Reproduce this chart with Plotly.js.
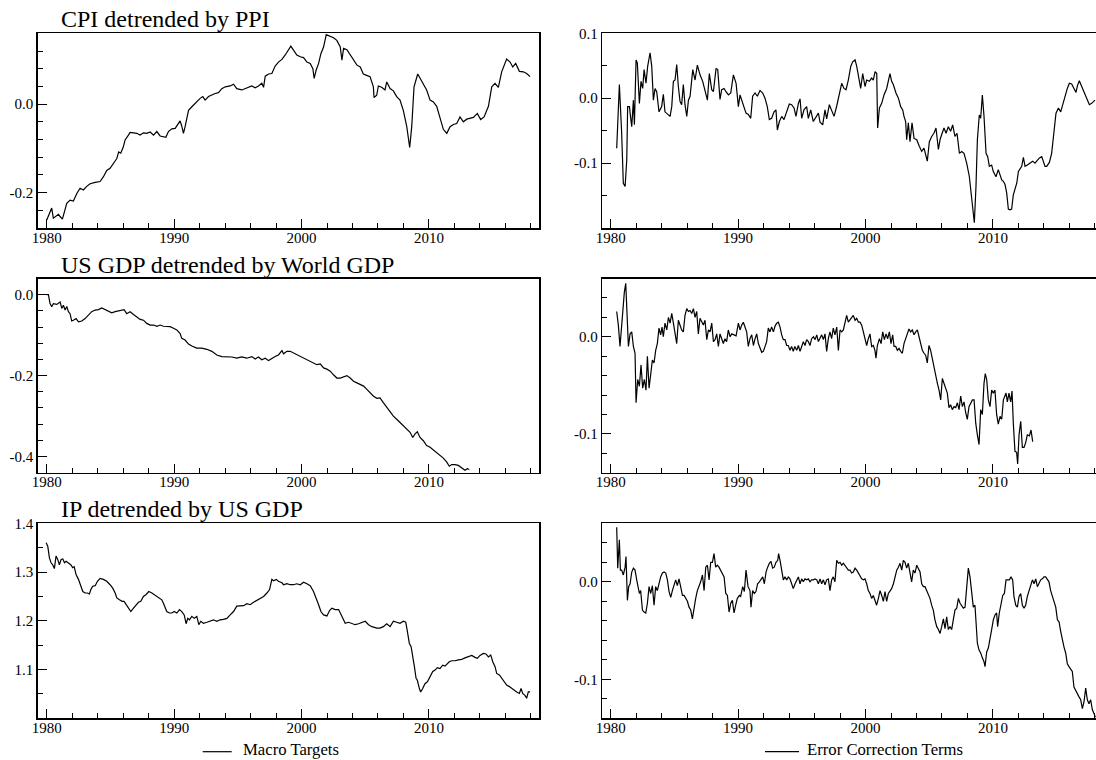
<!DOCTYPE html>
<html>
<head>
<meta charset="utf-8">
<script src="https://cdn.plot.ly/plotly-3.0.1.min.js"></script>
<style>html,body{margin:0;padding:0;background:#fff;}#chart{width:1096px;height:760px;}</style>
</head>
<body>
<div id="chart"></div>
<script>
// ---------- Panel titles / legend names ----------
const panelTitles = ["CPI detrended by PPI", "US GDP detrended by World GDP", "IP detrended by US GDP"];
const legendNames = ["Macro Targets", "Error Correction Terms"];

// ---------- Tick labels ----------
const xTickVals = [1980, 1990, 2000, 2010];
const xTickText = ["1980", "1990", "2000", "2010"];
const y1TickVals = [-0.2, 0.0];            const y1TickText = ["-0.2", "0.0"];
const y2TickVals = [-0.1, 0.0, 0.1];       const y2TickText = ["-0.1", "0.0", "0.1"];
const y3TickVals = [-0.4, -0.2, 0.0];      const y3TickText = ["-0.4", "-0.2", "0.0"];
const y4TickVals = [-0.1, 0.0];            const y4TickText = ["-0.1", "0.0"];
const y5TickVals = [1.1, 1.2, 1.3, 1.4];   const y5TickText = ["1.1", "1.2", "1.3", "1.4"];
const y6TickVals = [-0.1, 0.0];            const y6TickText = ["-0.1", "0.0"];

// ---------- Panel 1: CPI detrended by PPI (macro target) ----------
const cpiYears = [1980.00,1980.13,1980.39,1980.52,1980.79,1980.92,1981.05,1981.23,1981.57,1981.83,1982.09,1982.36,1982.62,1982.88,1983.14,1983.40,1983.80,1984.19,1984.45,1984.71,1984.97,1985.24,1985.50,1985.65,1985.81,1986.02,1986.15,1986.41,1986.54,1986.81,1987.07,1987.33,1987.59,1987.85,1988.12,1988.38,1988.64,1988.90,1989.16,1989.35,1989.55,1989.82,1990.08,1990.34,1990.47,1990.60,1990.73,1990.86,1991.13,1991.39,1991.65,1992.04,1992.25,1992.43,1992.70,1992.96,1993.22,1993.48,1993.74,1994.01,1994.40,1994.66,1994.92,1995.31,1995.58,1995.84,1996.10,1996.36,1996.62,1996.88,1997.02,1997.15,1997.41,1997.67,1997.93,1998.19,1998.46,1998.72,1998.98,1999.16,1999.37,1999.63,1999.90,2000.16,2000.42,2000.68,2000.89,2000.99,2001.15,2001.34,2001.52,2001.73,2001.94,2002.25,2002.51,2002.77,2003.04,2003.17,2003.30,2003.56,2003.82,2004.08,2004.35,2004.61,2004.85,2005.11,2005.38,2005.64,2005.69,2005.90,2006.03,2006.29,2006.55,2006.69,2006.95,2007.21,2007.47,2007.73,2007.99,2008.26,2008.49,2008.65,2008.83,2009.12,2009.30,2009.56,2009.82,2010.09,2010.35,2010.61,2010.87,2011.13,2011.40,2011.66,2011.92,2012.18,2012.44,2012.70,2012.97,2013.23,2013.49,2013.80,2014.06,2014.33,2014.67,2014.93,2015.19,2015.45,2015.71,2016.10,2016.37,2016.58,2016.81,2017.10,2017.41,2017.67,2017.94];
const cpiValues = [-0.262,-0.253,-0.235,-0.258,-0.253,-0.249,-0.254,-0.260,-0.224,-0.217,-0.219,-0.202,-0.190,-0.194,-0.186,-0.180,-0.177,-0.175,-0.164,-0.150,-0.145,-0.134,-0.123,-0.108,-0.111,-0.096,-0.081,-0.070,-0.064,-0.065,-0.066,-0.070,-0.065,-0.066,-0.063,-0.070,-0.062,-0.072,-0.074,-0.075,-0.062,-0.056,-0.055,-0.045,-0.038,-0.050,-0.066,-0.051,-0.014,-0.006,0.002,0.013,0.017,0.009,0.017,0.021,0.024,0.026,0.035,0.039,0.041,0.045,0.035,0.032,0.035,0.038,0.041,0.037,0.041,0.047,0.038,0.063,0.068,0.069,0.086,0.095,0.101,0.111,0.123,0.131,0.122,0.111,0.107,0.105,0.095,0.092,0.080,0.058,0.077,0.092,0.114,0.129,0.157,0.153,0.150,0.144,0.129,0.099,0.126,0.123,0.111,0.101,0.088,0.084,0.068,0.065,0.062,0.039,0.015,0.020,0.041,0.038,0.032,0.050,0.035,0.030,0.017,0.009,-0.014,-0.051,-0.098,-0.051,0.039,0.068,0.058,0.047,0.032,0.009,0.005,-0.005,-0.029,-0.057,-0.066,-0.051,-0.046,-0.044,-0.029,-0.040,-0.034,-0.032,-0.030,-0.021,-0.035,-0.029,-0.005,0.039,0.047,0.038,0.073,0.102,0.095,0.084,0.092,0.074,0.073,0.069,0.062];

// ---------- Panel 2: CPI error correction term ----------
const cpiEctYears = [1980.47,1980.68,1980.86,1980.99,1981.13,1981.26,1981.33,1981.47,1981.57,1981.65,1981.78,1981.86,1981.99,1982.09,1982.25,1982.38,1982.51,1982.62,1982.77,1982.90,1983.09,1983.22,1983.35,1983.48,1983.61,1983.79,1984.00,1984.13,1984.26,1984.40,1984.53,1984.66,1984.79,1984.92,1985.05,1985.18,1985.31,1985.44,1985.57,1985.70,1985.83,1985.97,1986.10,1986.23,1986.44,1986.62,1986.80,1987.01,1987.22,1987.40,1987.59,1987.74,1987.93,1988.06,1988.27,1988.40,1988.58,1988.71,1988.90,1989.05,1989.24,1989.42,1989.63,1989.84,1990.02,1990.15,1990.28,1990.41,1990.62,1990.80,1990.99,1991.14,1991.33,1991.51,1991.72,1991.93,1992.11,1992.29,1992.45,1992.63,1992.82,1992.97,1993.08,1993.24,1993.42,1993.60,1993.81,1994.02,1994.20,1994.39,1994.54,1994.73,1994.86,1994.99,1995.17,1995.38,1995.51,1995.70,1995.90,1996.11,1996.30,1996.43,1996.64,1996.82,1996.95,1997.16,1997.34,1997.53,1997.74,1997.95,1998.13,1998.31,1998.47,1998.65,1998.84,1998.99,1999.18,1999.31,1999.44,1999.62,1999.78,1999.96,2000.09,2000.30,2000.48,2000.61,2000.75,2000.88,2000.95,2001.09,2001.27,2001.45,2001.66,2001.79,2001.92,2002.05,2002.18,2002.39,2002.58,2002.76,2002.92,2003.02,2003.15,2003.23,2003.36,2003.49,2003.65,2003.81,2004.02,2004.22,2004.41,2004.59,2004.75,2004.85,2005.01,2005.19,2005.37,2005.53,2005.72,2005.85,2005.98,2006.16,2006.32,2006.50,2006.68,2006.84,2007.02,2007.18,2007.37,2007.55,2007.73,2007.94,2008.15,2008.33,2008.46,2008.54,2008.67,2008.78,2008.93,2009.04,2009.17,2009.30,2009.46,2009.59,2009.72,2009.90,2010.03,2010.24,2010.42,2010.55,2010.69,2010.82,2010.95,2011.08,2011.21,2011.34,2011.47,2011.60,2011.73,2011.87,2012.00,2012.13,2012.26,2012.39,2012.52,2012.70,2012.91,2013.12,2013.30,2013.49,2013.65,2013.83,2013.96,2014.09,2014.22,2014.43,2014.61,2014.74,2014.95,2015.14,2015.32,2015.48,2015.66,2015.84,2016.00,2016.18,2016.36,2016.52,2016.63,2016.78,2016.97,2017.15,2017.36,2017.57,2017.75,2017.88,2018.01];
const cpiEctValues = [-0.077,0.021,-0.054,-0.131,-0.136,-0.095,-0.013,-0.013,-0.031,-0.044,-0.003,-0.041,0.059,0.054,-0.008,0.026,0.015,0.044,0.023,0.049,0.070,0.049,-0.003,0.015,0.010,-0.021,-0.013,0.006,-0.021,-0.023,-0.026,-0.028,-0.013,0.026,0.028,0.052,0.018,-0.005,-0.010,0.021,-0.010,-0.028,-0.003,0.003,0.044,0.028,0.051,0.036,0.026,0.013,-0.003,0.038,0.013,0.010,0.046,0.044,-0.002,0.013,0.015,0.010,0.005,0.008,0.036,0.023,-0.013,0.005,-0.003,-0.013,-0.023,-0.025,-0.031,0.003,0.008,0.003,0.012,0.008,0.000,-0.013,-0.033,-0.031,-0.021,-0.018,-0.049,-0.036,-0.028,-0.033,-0.021,-0.009,-0.010,-0.015,-0.028,-0.008,-0.001,-0.031,-0.018,-0.013,-0.031,-0.018,-0.036,-0.028,-0.023,-0.037,-0.041,-0.018,-0.032,-0.010,-0.018,-0.028,-0.012,0.005,0.023,0.015,0.013,0.028,0.049,0.056,0.059,0.049,0.033,0.015,0.038,0.018,0.028,0.026,0.031,0.028,0.041,0.038,-0.046,-0.015,-0.008,0.005,0.015,0.028,0.038,0.026,0.021,0.008,0.000,-0.013,-0.018,-0.028,-0.036,-0.064,-0.038,-0.067,-0.038,-0.062,-0.064,-0.074,-0.082,-0.077,-0.087,-0.097,-0.067,-0.059,-0.054,-0.046,-0.079,-0.064,-0.056,-0.046,-0.054,-0.044,-0.051,-0.041,-0.059,-0.054,-0.085,-0.082,-0.085,-0.100,-0.121,-0.151,-0.177,-0.192,-0.136,-0.064,-0.026,-0.031,0.005,-0.028,-0.085,-0.090,-0.105,-0.103,-0.113,-0.121,-0.110,-0.118,-0.126,-0.128,-0.133,-0.146,-0.171,-0.172,-0.171,-0.149,-0.138,-0.131,-0.113,-0.108,-0.105,-0.091,-0.105,-0.103,-0.100,-0.097,-0.100,-0.096,-0.092,-0.090,-0.097,-0.105,-0.105,-0.099,-0.085,-0.064,-0.023,-0.015,-0.021,-0.010,0.005,0.015,0.023,0.022,0.015,0.009,0.019,0.027,0.018,0.009,0.000,-0.010,-0.008,-0.005,-0.003];

// ---------- Panel 3: US GDP detrended by World GDP (macro target) ----------
const gdpYears = [1980.00,1980.13,1980.26,1980.39,1980.52,1980.79,1981.05,1981.18,1981.31,1981.44,1981.57,1981.70,1981.83,1981.96,1982.09,1982.30,1982.49,1982.75,1983.01,1983.27,1983.53,1983.80,1984.06,1984.32,1984.58,1984.84,1985.10,1985.37,1985.63,1985.89,1986.07,1986.28,1986.54,1986.81,1987.07,1987.33,1987.59,1987.85,1988.12,1988.38,1988.64,1988.90,1989.16,1989.42,1989.69,1989.95,1990.21,1990.47,1990.60,1990.86,1991.13,1991.39,1991.78,1992.17,1992.57,1992.96,1993.35,1993.74,1994.14,1994.53,1994.92,1995.31,1995.71,1996.10,1996.36,1996.62,1996.88,1997.15,1997.41,1997.67,1997.93,1998.19,1998.46,1998.59,1998.85,1999.11,1999.37,1999.63,1999.90,2000.16,2000.42,2000.68,2000.94,2001.20,2001.47,2001.73,2001.99,2002.25,2002.51,2002.77,2003.04,2003.30,2003.56,2003.82,2004.08,2004.35,2004.61,2004.87,2005.13,2005.39,2005.65,2005.92,2006.16,2006.42,2006.69,2006.95,2007.21,2007.47,2007.73,2007.99,2008.26,2008.52,2008.73,2008.91,2009.09,2009.30,2009.56,2009.82,2010.09,2010.35,2010.61,2010.87,2011.13,2011.40,2011.60,2011.79,2012.05,2012.31,2012.57,2012.83,2013.02,2013.17];
const gdpValues = [0.000,0.000,-0.022,-0.030,-0.022,-0.024,-0.018,-0.034,-0.026,-0.038,-0.029,-0.042,-0.047,-0.065,-0.063,-0.059,-0.067,-0.065,-0.059,-0.051,-0.042,-0.038,-0.037,-0.033,-0.037,-0.041,-0.045,-0.042,-0.040,-0.038,-0.037,-0.047,-0.042,-0.049,-0.055,-0.061,-0.063,-0.071,-0.075,-0.075,-0.078,-0.075,-0.078,-0.078,-0.079,-0.083,-0.087,-0.096,-0.108,-0.112,-0.122,-0.127,-0.132,-0.132,-0.135,-0.140,-0.149,-0.153,-0.154,-0.154,-0.157,-0.154,-0.157,-0.153,-0.159,-0.154,-0.161,-0.157,-0.163,-0.157,-0.153,-0.149,-0.138,-0.146,-0.140,-0.140,-0.144,-0.149,-0.153,-0.157,-0.161,-0.165,-0.169,-0.173,-0.171,-0.181,-0.184,-0.189,-0.198,-0.206,-0.206,-0.203,-0.200,-0.206,-0.214,-0.218,-0.222,-0.226,-0.234,-0.242,-0.251,-0.256,-0.255,-0.267,-0.279,-0.291,-0.300,-0.308,-0.316,-0.324,-0.332,-0.340,-0.353,-0.344,-0.339,-0.353,-0.361,-0.373,-0.377,-0.384,-0.391,-0.398,-0.404,-0.414,-0.424,-0.420,-0.420,-0.422,-0.429,-0.434,-0.430,-0.432];

// ---------- Panel 4: US GDP error correction term ----------
const gdpEctYears = [1980.47,1980.60,1980.73,1980.86,1980.99,1981.07,1981.18,1981.26,1981.39,1981.52,1981.65,1981.78,1981.91,1981.99,1982.12,1982.25,1982.38,1982.51,1982.64,1982.77,1982.88,1983.01,1983.14,1983.27,1983.40,1983.53,1983.66,1983.79,1983.92,1984.03,1984.13,1984.26,1984.40,1984.53,1984.66,1984.79,1984.92,1985.05,1985.18,1985.31,1985.44,1985.57,1985.70,1985.83,1985.97,1986.10,1986.23,1986.36,1986.49,1986.62,1986.75,1986.88,1987.01,1987.14,1987.27,1987.40,1987.54,1987.67,1987.80,1987.93,1988.06,1988.19,1988.32,1988.45,1988.58,1988.71,1988.84,1988.97,1989.10,1989.23,1989.37,1989.50,1989.63,1989.84,1990.02,1990.15,1990.28,1990.41,1990.54,1990.67,1990.80,1990.93,1991.07,1991.20,1991.33,1991.46,1991.59,1991.72,1991.85,1991.98,1992.11,1992.24,1992.37,1992.50,1992.63,1992.77,1992.90,1993.03,1993.16,1993.29,1993.42,1993.55,1993.68,1993.81,1993.94,1994.07,1994.20,1994.33,1994.45,1994.60,1994.73,1994.86,1994.99,1995.12,1995.25,1995.38,1995.51,1995.64,1995.77,1995.91,1996.04,1996.17,1996.30,1996.43,1996.56,1996.69,1996.82,1996.95,1997.08,1997.21,1997.34,1997.47,1997.60,1997.74,1997.87,1998.00,1998.13,1998.26,1998.39,1998.52,1998.65,1998.78,1998.91,1999.04,1999.18,1999.31,1999.44,1999.57,1999.70,1999.83,1999.96,2000.09,2000.22,2000.35,2000.48,2000.61,2000.74,2000.82,2000.93,2001.09,2001.22,2001.35,2001.48,2001.61,2001.74,2001.87,2002.00,2002.13,2002.24,2002.37,2002.50,2002.63,2002.76,2002.89,2003.02,2003.15,2003.28,2003.41,2003.54,2003.67,2003.81,2003.94,2004.07,2004.20,2004.33,2004.46,2004.59,2004.72,2004.85,2004.98,2005.11,2005.25,2005.38,2005.51,2005.64,2005.77,2005.90,2006.03,2006.16,2006.29,2006.42,2006.55,2006.68,2006.81,2006.95,2007.08,2007.21,2007.34,2007.47,2007.60,2007.73,2007.86,2007.99,2008.12,2008.25,2008.39,2008.52,2008.65,2008.78,2008.91,2009.04,2009.17,2009.30,2009.40,2009.51,2009.64,2009.77,2009.90,2010.03,2010.16,2010.29,2010.42,2010.56,2010.69,2010.82,2010.95,2011.03,2011.13,2011.26,2011.39,2011.50,2011.60,2011.73,2011.86,2011.94,2012.05,2012.18,2012.31,2012.44,2012.57,2012.70,2012.86,2012.99,2013.12];
const gdpEctValues = [0.026,0.012,-0.010,0.015,0.041,0.046,0.055,0.024,-0.010,0.003,0.005,-0.010,-0.017,-0.068,-0.044,-0.051,-0.029,-0.053,-0.044,-0.055,-0.020,-0.053,-0.041,-0.024,-0.027,-0.014,-0.007,0.009,0.002,0.010,0.000,0.014,0.007,0.020,0.014,0.024,0.014,0.005,-0.007,0.017,0.012,0.007,0.005,0.022,0.029,0.026,0.027,0.024,0.029,0.020,0.026,0.003,0.019,0.015,0.012,0.017,-0.003,0.007,0.005,0.014,-0.005,-0.003,0.003,-0.010,0.003,-0.002,-0.007,-0.002,-0.005,0.007,0.000,0.003,0.002,0.001,0.014,0.007,0.012,0.015,0.010,0.005,-0.010,-0.002,0.002,-0.009,-0.002,0.003,-0.007,-0.012,-0.016,-0.015,-0.010,-0.005,0.009,0.005,0.010,0.005,0.011,0.014,0.015,0.010,0.002,-0.003,-0.003,-0.009,-0.009,-0.014,-0.010,-0.015,-0.010,-0.014,-0.009,-0.015,-0.010,-0.005,-0.009,-0.003,-0.005,-0.009,-0.002,0.000,-0.003,0.002,-0.005,-0.002,0.002,-0.003,0.003,-0.015,-0.002,0.005,-0.002,0.009,0.002,0.010,-0.014,0.007,0.005,0.007,0.014,0.022,0.015,0.017,0.019,0.022,0.017,0.019,0.015,0.015,0.012,0.005,-0.003,-0.009,-0.002,0.003,-0.010,-0.009,-0.014,-0.022,-0.009,-0.002,-0.007,0.005,-0.003,0.003,-0.002,0.005,-0.007,0.002,-0.010,-0.010,-0.014,-0.012,-0.015,-0.017,-0.007,-0.003,0.003,0.008,0.005,0.007,0.002,0.005,0.007,0.000,-0.009,-0.014,-0.017,-0.019,-0.027,-0.009,-0.014,-0.024,-0.031,-0.041,-0.048,-0.055,-0.065,-0.043,-0.048,-0.055,-0.058,-0.073,-0.070,-0.075,-0.072,-0.073,-0.068,-0.075,-0.061,-0.072,-0.067,-0.078,-0.085,-0.072,-0.068,-0.065,-0.065,-0.089,-0.101,-0.111,-0.075,-0.080,-0.048,-0.038,-0.044,-0.065,-0.072,-0.055,-0.058,-0.055,-0.080,-0.090,-0.082,-0.085,-0.065,-0.061,-0.058,-0.067,-0.058,-0.067,-0.056,-0.089,-0.118,-0.119,-0.131,-0.101,-0.087,-0.114,-0.114,-0.109,-0.101,-0.102,-0.096,-0.108];

// ---------- Panel 5: IP detrended by US GDP (macro target) ----------
const ipYears = [1979.95,1980.08,1980.21,1980.34,1980.47,1980.60,1980.73,1980.86,1980.99,1981.13,1981.26,1981.39,1981.52,1981.70,1981.88,1982.04,1982.15,1982.30,1982.49,1982.67,1982.83,1983.01,1983.19,1983.35,1983.46,1983.61,1983.80,1983.98,1984.19,1984.45,1984.71,1984.97,1985.18,1985.37,1985.50,1985.71,1985.92,1986.07,1986.23,1986.41,1986.60,1986.81,1987.02,1987.20,1987.38,1987.59,1987.80,1988.01,1988.25,1988.43,1988.64,1988.85,1989.03,1989.16,1989.29,1989.42,1989.63,1989.82,1990.00,1990.21,1990.42,1990.60,1990.79,1990.94,1991.07,1991.20,1991.39,1991.57,1991.78,1991.94,1992.09,1992.30,1992.57,1992.83,1993.09,1993.35,1993.61,1993.87,1994.14,1994.40,1994.66,1994.92,1995.18,1995.45,1995.71,1995.97,1996.23,1996.49,1996.75,1997.02,1997.28,1997.49,1997.67,1997.80,1998.01,1998.19,1998.46,1998.59,1998.85,1999.11,1999.37,1999.63,1999.90,2000.16,2000.42,2000.68,2000.94,2001.15,2001.34,2001.52,2001.73,2001.99,2002.20,2002.38,2002.64,2002.91,2003.17,2003.43,2003.69,2003.95,2004.21,2004.48,2004.74,2005.00,2005.26,2005.52,2005.92,2006.16,2006.42,2006.69,2006.95,2007.21,2007.47,2007.73,2007.99,2008.18,2008.31,2008.46,2008.60,2008.73,2008.86,2008.99,2009.09,2009.25,2009.35,2009.51,2009.69,2009.88,2010.09,2010.30,2010.48,2010.66,2010.87,2011.08,2011.26,2011.45,2011.60,2011.79,2012.05,2012.31,2012.57,2012.83,2013.10,2013.36,2013.62,2013.80,2014.01,2014.27,2014.48,2014.67,2014.85,2015.01,2015.19,2015.32,2015.53,2015.71,2015.89,2016.10,2016.31,2016.50,2016.68,2016.89,2017.10,2017.23,2017.36,2017.54,2017.67,2017.80,2017.94];
const ipValues = [1.360,1.353,1.329,1.319,1.315,1.307,1.333,1.326,1.315,1.326,1.327,1.319,1.322,1.319,1.315,1.309,1.311,1.295,1.285,1.272,1.260,1.257,1.257,1.255,1.264,1.271,1.272,1.281,1.287,1.285,1.281,1.274,1.267,1.257,1.247,1.243,1.240,1.240,1.233,1.226,1.219,1.226,1.233,1.238,1.240,1.250,1.254,1.260,1.257,1.254,1.250,1.247,1.243,1.236,1.226,1.219,1.216,1.216,1.219,1.216,1.223,1.219,1.212,1.194,1.205,1.202,1.209,1.205,1.209,1.192,1.199,1.195,1.197,1.199,1.202,1.199,1.202,1.203,1.205,1.212,1.219,1.230,1.231,1.231,1.235,1.233,1.238,1.242,1.247,1.250,1.257,1.264,1.285,1.282,1.285,1.281,1.278,1.274,1.276,1.274,1.274,1.276,1.274,1.279,1.276,1.272,1.260,1.247,1.233,1.219,1.212,1.210,1.221,1.226,1.223,1.223,1.209,1.195,1.197,1.195,1.192,1.194,1.197,1.199,1.192,1.188,1.185,1.185,1.188,1.194,1.188,1.199,1.197,1.195,1.199,1.197,1.178,1.154,1.147,1.130,1.106,1.082,1.078,1.061,1.054,1.061,1.071,1.075,1.085,1.096,1.099,1.104,1.102,1.109,1.107,1.113,1.116,1.118,1.118,1.120,1.121,1.124,1.126,1.129,1.125,1.123,1.129,1.133,1.132,1.126,1.130,1.116,1.106,1.092,1.089,1.082,1.075,1.068,1.065,1.061,1.058,1.054,1.051,1.061,1.051,1.047,1.041,1.054,1.054];

// ---------- Panel 6: IP error correction term ----------
const ipEctYears = [1980.47,1980.55,1980.68,1980.76,1980.86,1980.99,1981.13,1981.20,1981.31,1981.41,1981.52,1981.65,1981.78,1981.91,1982.04,1982.17,1982.25,1982.35,1982.49,1982.62,1982.75,1982.88,1983.01,1983.14,1983.27,1983.40,1983.53,1983.66,1983.79,1983.92,1984.06,1984.19,1984.32,1984.45,1984.58,1984.71,1984.84,1984.97,1985.10,1985.23,1985.36,1985.49,1985.63,1985.76,1985.89,1986.02,1986.15,1986.28,1986.41,1986.54,1986.67,1986.80,1986.93,1987.06,1987.20,1987.33,1987.46,1987.59,1987.72,1987.85,1987.98,1988.11,1988.24,1988.37,1988.50,1988.63,1988.76,1988.90,1989.03,1989.16,1989.29,1989.42,1989.55,1989.68,1989.81,1989.94,1990.10,1990.20,1990.36,1990.49,1990.62,1990.78,1990.93,1991.01,1991.14,1991.27,1991.40,1991.53,1991.67,1991.80,1991.93,1992.06,1992.19,1992.32,1992.45,1992.58,1992.71,1992.84,1992.97,1993.11,1993.18,1993.29,1993.42,1993.55,1993.68,1993.81,1993.94,1994.07,1994.20,1994.33,1994.47,1994.60,1994.73,1994.86,1994.99,1995.12,1995.25,1995.38,1995.51,1995.64,1995.77,1995.91,1996.04,1996.17,1996.30,1996.43,1996.56,1996.69,1996.82,1996.95,1997.08,1997.21,1997.34,1997.47,1997.60,1997.74,1997.87,1998.00,1998.13,1998.26,1998.39,1998.52,1998.65,1998.78,1998.91,1999.04,1999.18,1999.31,1999.44,1999.57,1999.70,1999.83,1999.96,2000.09,2000.22,2000.35,2000.48,2000.61,2000.74,2000.87,2001.01,2001.14,2001.27,2001.40,2001.53,2001.66,2001.79,2001.92,2002.05,2002.19,2002.32,2002.45,2002.58,2002.71,2002.84,2002.97,2003.10,2003.23,2003.36,2003.49,2003.62,2003.75,2003.88,2004.02,2004.15,2004.28,2004.41,2004.54,2004.67,2004.80,2004.93,2005.06,2005.19,2005.32,2005.45,2005.59,2005.72,2005.85,2005.98,2006.11,2006.24,2006.37,2006.50,2006.63,2006.76,2006.89,2007.02,2007.16,2007.29,2007.42,2007.55,2007.68,2007.81,2007.94,2008.07,2008.20,2008.33,2008.46,2008.59,2008.67,2008.78,2008.91,2009.04,2009.17,2009.30,2009.38,2009.51,2009.64,2009.77,2009.90,2010.03,2010.16,2010.29,2010.37,2010.50,2010.63,2010.77,2010.90,2011.03,2011.16,2011.29,2011.42,2011.55,2011.65,2011.79,2011.92,2012.05,2012.18,2012.31,2012.44,2012.57,2012.70,2012.84,2012.97,2013.10,2013.23,2013.36,2013.49,2013.62,2013.75,2013.88,2014.01,2014.14,2014.27,2014.40,2014.53,2014.66,2014.80,2014.93,2015.06,2015.19,2015.32,2015.45,2015.58,2015.71,2015.84,2015.97,2016.10,2016.23,2016.36,2016.50,2016.63,2016.76,2016.89,2017.02,2017.15,2017.28,2017.41,2017.54,2017.67,2017.80,2017.93,2018.04];
const ipEctValues = [0.056,0.014,0.043,0.012,0.012,0.007,0.015,0.026,-0.019,-0.005,-0.002,0.010,0.014,0.012,0.002,-0.009,-0.012,-0.009,-0.029,-0.031,-0.032,-0.022,-0.005,-0.012,-0.004,-0.024,-0.005,-0.009,-0.002,0.005,0.009,0.010,0.009,0.002,-0.010,-0.016,-0.009,-0.002,0.002,-0.004,0.003,-0.005,-0.014,-0.014,-0.017,-0.020,-0.026,-0.029,-0.038,-0.026,-0.017,-0.009,-0.005,0.000,0.007,-0.009,0.015,0.017,0.002,0.020,0.020,0.029,0.015,0.017,0.015,0.012,0.009,0.005,-0.012,-0.014,-0.031,-0.022,-0.019,-0.032,-0.024,-0.017,-0.014,-0.015,-0.005,-0.010,0.012,-0.005,-0.009,-0.026,-0.009,-0.012,-0.010,-0.002,0.000,0.003,0.005,-0.002,0.010,0.015,0.019,0.021,0.014,0.015,0.020,0.022,0.029,0.022,0.010,0.002,0.005,0.002,0.005,0.003,-0.002,-0.007,-0.002,0.002,0.005,-0.002,0.003,0.000,0.003,0.002,0.003,0.000,0.002,0.002,0.003,0.002,-0.002,0.003,-0.002,0.002,-0.003,0.002,0.003,-0.009,0.002,0.005,0.000,0.022,0.019,0.020,0.017,0.019,0.017,0.014,0.012,0.012,0.009,0.010,0.014,0.012,0.009,0.005,0.003,0.002,0.003,-0.002,-0.009,-0.012,-0.017,-0.014,-0.020,-0.024,-0.017,-0.009,-0.014,-0.020,-0.010,-0.020,-0.012,-0.009,-0.007,-0.002,0.005,0.012,0.015,0.019,0.012,0.022,0.020,0.014,0.019,0.009,0.000,0.012,0.009,0.017,0.014,0.010,-0.002,-0.005,-0.005,-0.009,-0.012,-0.017,-0.024,-0.029,-0.039,-0.046,-0.049,-0.053,-0.046,-0.038,-0.048,-0.036,-0.049,-0.046,-0.049,-0.039,-0.029,-0.027,-0.017,-0.022,-0.024,-0.027,-0.026,-0.009,0.014,0.005,-0.009,-0.026,-0.024,-0.039,-0.063,-0.070,-0.073,-0.078,-0.082,-0.087,-0.072,-0.068,-0.060,-0.049,-0.039,-0.034,-0.032,-0.046,-0.032,-0.022,-0.014,-0.012,0.002,0.002,0.002,0.005,0.002,-0.015,-0.024,-0.026,-0.015,-0.012,-0.024,-0.027,-0.024,-0.015,-0.009,-0.005,0.002,-0.002,0.003,-0.005,-0.002,0.002,0.003,0.005,0.005,0.003,0.000,-0.009,-0.015,-0.020,-0.026,-0.039,-0.041,-0.051,-0.060,-0.067,-0.073,-0.084,-0.087,-0.089,-0.092,-0.108,-0.111,-0.114,-0.118,-0.121,-0.130,-0.123,-0.109,-0.121,-0.125,-0.121,-0.131,-0.135,-0.139];

// ---------- Layout helpers ----------
const W = 1096, H = 760;
const FONT = "Liberation Serif";
const px = v => v / W;
const py = v => 1 - v / H;

const leftDom = [px(37.7), px(539)];
const rightDom = [px(602.3), 1.0];
const rows = [[33.3, 228], [278.5, 472.7], [523.3, 718.3]];
const leftRange = [1979.29, 2018.64];
const rightRange = [1979.34, 2018.09];

function xAxis(dom, rng, anchor) {
  return {
    domain: dom, range: rng, anchor: anchor,
    showgrid: false, zeroline: false,
    showline: true, linecolor: '#000', linewidth: 1.5, mirror: true,
    ticks: 'inside', ticklen: 9, tickwidth: 1, tickcolor: '#000',
    tickmode: 'array', tickvals: xTickVals, ticktext: xTickText,
    ticklabelstandoff: -5,
    minor: {dtick: 2, tick0: 1980, ticks: 'inside', ticklen: 5, tickwidth: 1, tickcolor: '#000', showgrid: false},
    tickfont: {family: FONT, size: 15, color: '#000'},
    fixedrange: true
  };
}
function yAxis(row, rng, tv, tt, minorD, minor0, anchor, isRight) {
  return {
    domain: [py(rows[row][1]), py(rows[row][0])], range: rng, anchor: anchor,
    showgrid: false, zeroline: false,
    showline: true, linecolor: '#000', linewidth: 1.5, mirror: !isRight,
    ticks: 'inside', ticklen: 9, tickwidth: 1, tickcolor: '#000',
    tickmode: 'array', tickvals: tv, ticktext: tt,
    minor: {dtick: minorD, tick0: minor0, ticks: 'inside', ticklen: 5, tickwidth: 1, tickcolor: '#000', showgrid: false},
    tickfont: {family: FONT, size: 15, color: '#000'},
    fixedrange: true
  };
}

const lineStyle = {color: '#000', width: 1.2};
const traces = [
  {x: cpiYears, y: cpiValues, xaxis: 'x', yaxis: 'y', name: legendNames[0]},
  {x: cpiEctYears, y: cpiEctValues, xaxis: 'x2', yaxis: 'y2', name: legendNames[1]},
  {x: gdpYears, y: gdpValues, xaxis: 'x3', yaxis: 'y3', name: legendNames[0]},
  {x: gdpEctYears, y: gdpEctValues, xaxis: 'x4', yaxis: 'y4', name: legendNames[1]},
  {x: ipYears, y: ipValues, xaxis: 'x5', yaxis: 'y5', name: legendNames[0]},
  {x: ipEctYears, y: ipEctValues, xaxis: 'x6', yaxis: 'y6', name: legendNames[1]}
].map(t => Object.assign({type: 'scatter', mode: 'lines', line: lineStyle, hoverinfo: 'skip', showlegend: false}, t));

const titleAnn = (text, row) => ({
  text: text, xref: 'paper', yref: 'paper', x: px(59), y: py(rows[row][0] + 1),
  xanchor: 'left', yanchor: 'bottom', showarrow: false,
  font: {family: FONT, size: 24, color: '#000'}
});

// legend keys (drawn as a short line + label under each column)
const legendKeys = [
  {name: legendNames[0], x0: 202.7, x1: 231.7, tx: 241.3},
  {name: legendNames[1], x0: 765, x1: 799, tx: 805}
];
const legendY = 751.7;
const legendShapes = legendKeys.map(k => ({
  type: 'line', xref: 'paper', yref: 'paper',
  x0: px(k.x0), x1: px(k.x1), y0: py(legendY), y1: py(legendY),
  line: {color: '#000', width: 1.2}
}));
const legendAnns = legendKeys.map(k => ({
  text: k.name, xref: 'paper', yref: 'paper', x: px(k.tx), y: py(749.5),
  xanchor: 'left', yanchor: 'middle', showarrow: false,
  font: {family: FONT, size: 16.7, color: '#000'}
}));

const layout = {
  width: W, height: H,
  margin: {l: 0, r: 0, t: 0, b: 0, pad: 0, autoexpand: false},
  paper_bgcolor: '#fff', plot_bgcolor: '#fff',
  font: {family: FONT, color: '#000'},
  showlegend: false,
  xaxis: xAxis(leftDom, leftRange, 'y'),
  yaxis: yAxis(0, [-0.28, 0.16], y1TickVals, y1TickText, 0.04, 0, 'x', false),
  xaxis2: xAxis(rightDom, rightRange, 'y2'),
  yaxis2: yAxis(0, [-0.2, 0.1], y2TickVals, y2TickText, 0.05, 0, 'x2', true),
  xaxis3: xAxis(leftDom, leftRange, 'y3'),
  yaxis3: yAxis(1, [-0.44, 0.04], y3TickVals, y3TickText, 0.04, 0, 'x3', false),
  xaxis4: xAxis(rightDom, rightRange, 'y4'),
  yaxis4: yAxis(1, [-0.14, 0.06], y4TickVals, y4TickText, 0.02, 0, 'x4', true),
  xaxis5: xAxis(leftDom, leftRange, 'y5'),
  yaxis5: yAxis(2, [1.0, 1.4], y5TickVals, y5TickText, 0.05, 1.0, 'x5', false),
  xaxis6: xAxis(rightDom, rightRange, 'y6'),
  yaxis6: yAxis(2, [-0.14, 0.06], y6TickVals, y6TickText, 0.02, 0, 'x6', true),
  shapes: legendShapes,
  annotations: [titleAnn(panelTitles[0], 0), titleAnn(panelTitles[1], 1), titleAnn(panelTitles[2], 2)].concat(legendAnns)
};

Plotly.newPlot('chart', traces, layout, {displayModeBar: false, staticPlot: true});
</script>
</body>
</html>
